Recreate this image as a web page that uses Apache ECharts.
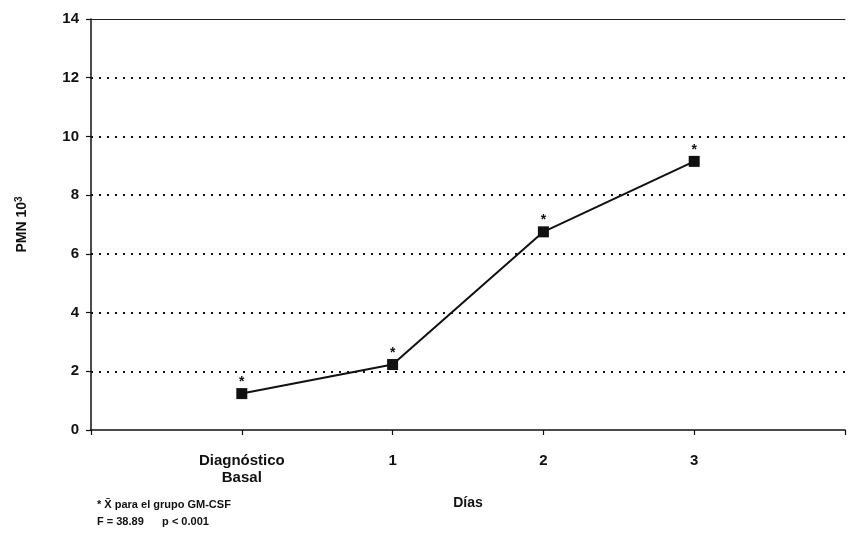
<!DOCTYPE html>
<html><head><meta charset="utf-8">
<script src="https://cdn.jsdelivr.net/npm/echarts@6/dist/echarts.min.js"></script>
<style>html,body{margin:0;padding:0;background:#fff}#c{width:848px;height:552px}</style>
</head><body><div id="c"></div>
<script>
const categories = ["Diagnóstico\nBasal", "1", "2", "3"];
const xPositions = [0, 1, 2, 3];
const pmnValues = [1.24, 2.23, 6.75, 9.15];
const yTicks = [0, 2, 4, 6, 8, 10, 12, 14];
const footnote1 = "* X\u0304 para el grupo GM-CSF";
const footnote2 = "F = 38.89      p < 0.001";

const font = '"Liberation Sans", Arial, sans-serif';
const chart = echarts.init(document.getElementById('c'));
chart.setOption({
  animation: false,
  backgroundColor: '#fff',
  grid: { left: 91, right: -3, top: 19, bottom: 122, containLabel: false },
  xAxis: [{
    type: 'value', min: -1, max: 4, interval: 1,
    axisLine: { show: true, onZero: false, lineStyle: { color: '#111', width: 1.5 } },
    axisTick: { show: true, length: 5, lineStyle: { color: '#111', width: 1.2 } },
    splitLine: { show: false },
    axisLabel: {
      margin: 22, color: '#111', fontFamily: font, fontWeight: 'bold', fontSize: 15, lineHeight: 17,
      formatter: v => { const i = xPositions.indexOf(v); return i >= 0 ? categories[i] : ''; }
    },
    name: 'Días', nameLocation: 'middle', nameGap: 66,
    nameTextStyle: { color: '#111', fontFamily: font, fontWeight: 'bold', fontSize: 14 }
  }, {
    type: 'value', min: -1, max: 4, position: 'top',
    axisLine: { show: true, onZero: false, lineStyle: { color: '#222', width: 1 } },
    axisTick: { show: false }, axisLabel: { show: false }, splitLine: { show: false }
  }],
  yAxis: {
    type: 'value', min: 0, max: 14, interval: 2,
    axisLine: { show: true, onZero: false, lineStyle: { color: '#111', width: 1.5 } },
    axisTick: { show: true, length: 5, lineStyle: { color: '#111', width: 1.2 } },
    splitLine: { show: true, showMinLine: false, showMaxLine: false, lineStyle: { color: '#111', type: [2, 6], width: 2 } },
    axisLabel: {
      margin: 12, color: '#111', fontFamily: font, fontWeight: 'bold', fontSize: 15,
      formatter: v => yTicks.includes(v) ? String(v) : ''
    },
    name: '{a|PMN 10}{s|3}', nameLocation: 'middle', nameGap: 60, nameRotate: 90,
    nameTextStyle: {
      rich: {
        a: { fontFamily: font, fontWeight: 'bold', fontSize: 14, color: '#111' },
        s: { fontFamily: font, fontWeight: 'bold', fontSize: 10, color: '#111', verticalAlign: 'top', padding: [0, 0, 7, 0] }
      }
    }
  },
  series: [{
    type: 'line',
    data: xPositions.map((x, i) => [x, pmnValues[i]]),
    symbol: 'rect', symbolSize: 11,
    itemStyle: { color: '#111' },
    lineStyle: { color: '#111', width: 2 },
    label: { show: true, position: 'top', distance: -1, formatter: '*', color: '#111', fontFamily: font, fontWeight: 'bold', fontSize: 14 }
  }],
  graphic: [
    { type: 'text', left: 97, top: 499, style: { text: footnote1, fill: '#111', font: 'bold 11px "Liberation Sans", Arial, sans-serif' } },
    { type: 'text', left: 97, top: 516, style: { text: footnote2, fill: '#111', font: 'bold 11px "Liberation Sans", Arial, sans-serif' } }
  ]
});
</script></body></html>
